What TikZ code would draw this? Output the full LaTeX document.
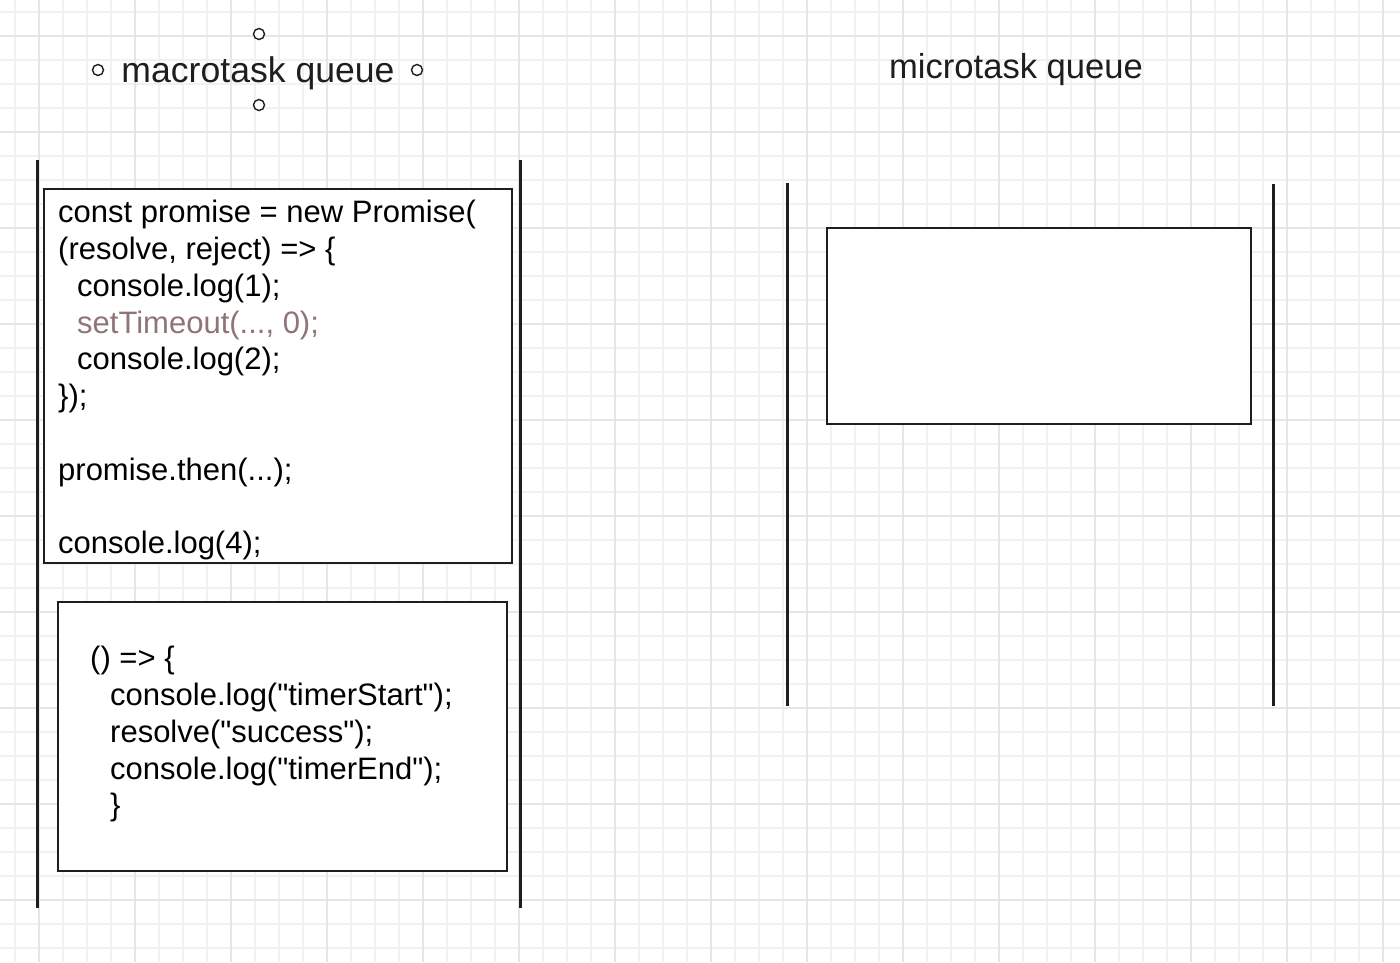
\documentclass[tikz,border=0pt]{standalone}
\usepackage{fontspec}
\setmainfont{Liberation Sans}
\newfontfamily\codefont{Liberation Sans}
\definecolor{gridminor}{HTML}{F1F1F1}
\definecolor{gridmajor}{HTML}{E6E6E6}
\definecolor{timeoutcol}{HTML}{8F7575}
\definecolor{inkcol}{HTML}{1E1E1E}

\begin{document}
\begin{tikzpicture}[x=1pt,y=-1pt,
    minorgrid/.style={draw=gridminor, line width=1.6pt},
    majorgrid/.style={draw=gridmajor, line width=2.2pt},
    queueline/.style={draw=inkcol, line width=3pt},
    codebox/.style={rectangle, draw=inkcol, line width=2.4pt, fill=white, inner sep=0pt, anchor=north west},
    codetext/.style={inner sep=0pt, anchor=north west, align=left, text=black,
        font=\codefont\fontsize{31}{36.8}\selectfont},
    title/.style={inner sep=0pt, text=inkcol, font=\codefont\fontsize{35.6}{40}\selectfont},
    handle/.style={circle, draw=inkcol, line width=1.4pt, fill=white, minimum size=11pt, inner sep=0pt}]

         \useasboundingbox [fill=white] (0,0) rectangle (1400,962);

         % grid paper
         \foreach \gx in {15,39,...,1399} \draw [minorgrid] (\gx,0) -- (\gx,962);
         \foreach \gy in {11.7,35.7,...,962} \draw [minorgrid] (0,\gy) -- (1400,\gy);
         \foreach \gx in {39,135,...,1399} \draw [majorgrid] (\gx,0) -- (\gx,962);
         \foreach \gy in {35.7,131.7,...,962} \draw [majorgrid] (0,\gy) -- (1400,\gy);

         % titles
         \node [title] (macro) at (258,73) {macrotask queue};
         \node [title, font=\codefont\fontsize{34.6}{39}\selectfont] (micro) at (1016,70) {microtask queue};
         \node [handle] (hn) at (259,34) {};
         \node [handle] (hs) at (259,105) {};
         \node [handle] (hw) at (98,70) {};
         \node [handle] (he) at (417,70) {};

         % queue walls
         \draw [queueline] (37,160) -- (37,908);
         \draw [queueline] (520,160) -- (520,908);
         \draw [queueline] (787,183) -- (787,706);
         \draw [queueline] (1273,184) -- (1273,706);

         % macrotasks
         \node [codebox, minimum width=468pt, minimum height=374pt] (script) at (43,188) {};
         \node [codetext] (scripttext) at ([shift={(15,12)}]script.north west)
           {const promise = new Promise(\\
            (resolve, reject) => \{\\
            \hspace*{19pt}console.log(1);\\
            \hspace*{19pt}\textcolor{timeoutcol}{setTimeout(..., 0);}\\
            \hspace*{19pt}console.log(2);\\
            \});\\[36.8pt]
            promise.then(...);\\[36.8pt]
            console.log(4);};

         \node [codebox, minimum width=449pt, minimum height=269pt] (timer) at (57,601) {};
         \node [codetext] (timertext) at ([shift={(33,45)}]timer.north west)
           {() => \{\\
            \hspace*{20pt}console.log("timerStart");\\
            \hspace*{20pt}resolve("success");\\
            \hspace*{20pt}console.log("timerEnd");\\
            \hspace*{20pt}\}};

         % microtasks
         \node [codebox, minimum width=424pt, minimum height=196pt] (microbox) at (826,227) {};

        \end{tikzpicture}
\end{document}
